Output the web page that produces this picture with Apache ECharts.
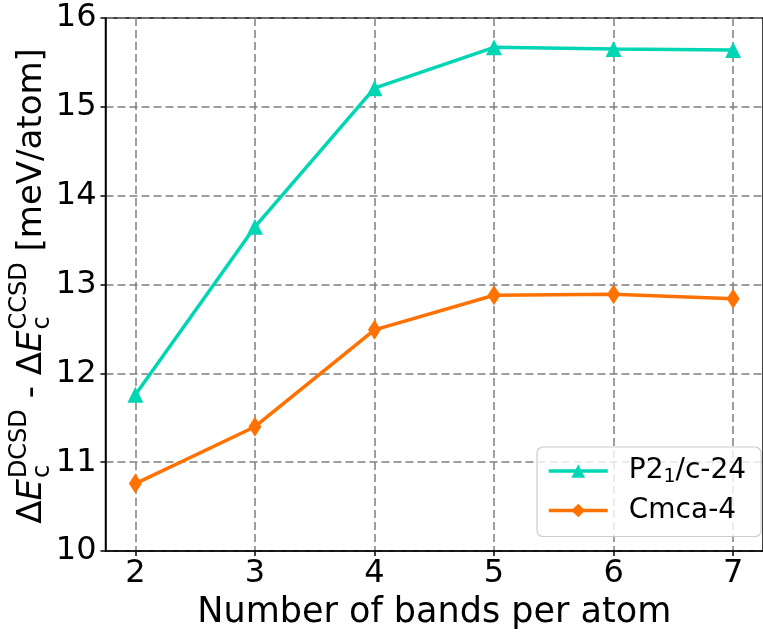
<!DOCTYPE html>
<html>
<head>
<meta charset="utf-8">
<script src="https://cdn.jsdelivr.net/npm/echarts@6/dist/echarts.min.js"></script>
<style>
  html, body { margin: 0; padding: 0; background: #fff; }
  #chart { width: 763px; height: 635px; }
</style>
</head>
<body>
<div id="chart"></div>
<script>
// Number of bands per atom (x values)
const bands = [2, 3, 4, 5, 6, 7];
// Energy difference ΔE_c^DCSD - ΔE_c^CCSD in meV/atom
const p21c24 = [11.76, 13.65, 15.21, 15.67, 15.65, 15.64];
const cmca4 = [10.76, 11.40, 12.49, 12.88, 12.89, 12.84];
// Tick values
const xTicks = [2, 3, 4, 5, 6, 7];
const yTicks = [10, 11, 12, 13, 14, 15, 16];

const seriesNames = ['P21/c-24', 'Cmca-4'];
const colors = ['#00d6b4', '#ff7100'];

const FONT = '"DejaVu Sans", sans-serif';
const TICK_SIZE = 32;
const LABEL_SIZE = 35;
const chart = echarts.init(document.getElementById('chart'), null, { renderer: 'canvas' });

// Rotated y-axis title with stacked sub/superscripts
function buildYTitle() {
  const main = 34, small = 24;
  const ctx = document.createElement('canvas').getContext('2d');
  const measure = (t, size, italic) => {
    ctx.font = (italic ? 'italic ' : '') + size + 'px ' + FONT;
    return ctx.measureText(t).width;
  };
  const k = 0.346; // middle-to-baseline offset (em)
  const supRaise = 16, subDrop = 7;
  const parts = [
    { t: 'Δ' }, { t: 'E', it: true }, { sub: 'c', sup: 'DCSD' },
    { t: ' - ' },
    { t: 'Δ' }, { t: 'E', it: true }, { sub: 'c', sup: 'CCSD' },
    { t: ' [meV/atom]' }
  ];
  const pieces = [];
  let x = 0;
  parts.forEach(p => {
    if (p.t) {
      pieces.push({ text: p.t, x: x, base: 0, size: main, it: !!p.it });
      x += measure(p.t, main, p.it);
    } else {
      const x0 = x + 1;
      pieces.push({ text: p.sup, x: x0, base: -supRaise, size: small });
      pieces.push({ text: p.sub, x: x0, base: subDrop, size: small });
      x = x0 + Math.max(measure(p.sup, small), measure(p.sub, small));
    }
  });
  const L = x;
  return {
    type: 'group',
    x: 44,
    y: 286,
    rotation: Math.PI / 2,
    children: pieces.map(pc => ({
      type: 'text',
      x: pc.x - L / 2,
      y: pc.base - k * pc.size,
      style: {
        text: pc.text,
        font: (pc.it ? 'italic ' : '') + pc.size + 'px ' + FONT,
        fill: '#000',
        align: 'left',
        verticalAlign: 'middle'
      }
    }))
  };
}

const option = {
  animation: false,
  backgroundColor: '#fff',
  textStyle: { fontFamily: FONT },
  grid: {
    left: 105.5,
    right: -8.3,
    top: 18,
    bottom: 82,
    show: true,
    borderColor: '#000',
    borderWidth: 1.5,
    backgroundColor: 'transparent'
  },
  xAxis: {
    type: 'value',
    min: 1.75,
    max: 7.25,
    name: 'Number of bands per atom',
    nameLocation: 'middle',
    nameGap: 40,
    nameTextStyle: { fontSize: LABEL_SIZE, color: '#000', fontFamily: FONT },
    axisLine: { show: true, lineStyle: { color: '#000', width: 1.5 } },
    axisTick: { show: true, inside: false, length: 5, customValues: xTicks, lineStyle: { color: '#000', width: 1.5 } },
    axisLabel: { customValues: xTicks, fontSize: TICK_SIZE, color: '#000', margin: 7, fontFamily: FONT },
    splitLine: { show: true, lineStyle: { color: '#7f7f7f', type: [8, 4], width: 1.5 } }
  },
  yAxis: {
    type: 'value',
    min: 10,
    max: 16,
    interval: 1,
    axisLine: { show: true, lineStyle: { color: '#000', width: 1.5 } },
    axisTick: { show: true, inside: false, length: 5, lineStyle: { color: '#000', width: 1.5 } },
    axisLabel: { fontSize: TICK_SIZE, color: '#000', margin: 9, fontFamily: FONT,
      formatter: v => (yTicks.indexOf(v) >= 0 ? String(v) : '') },
    splitLine: { show: true, lineStyle: { color: '#7f7f7f', type: [8, 4], width: 1.5 } }
  },
  legend: {
    orient: 'vertical',
    left: 537,
    top: 447,
    padding: [10, 15, 12, 10],
    itemGap: 10,
    itemWidth: 59,
    itemHeight: 17,
    backgroundColor: 'rgba(255,255,255,0.8)',
    borderColor: '#cccccc',
    borderWidth: 1.2,
    borderRadius: 6,
    lineStyle: { width: 3.5 },
    data: seriesNames,
    formatter: name => name === 'P21/c-24' ? '{a|P2}{s|1}{a|/c-24}' : '{a|' + name + '}',
    textStyle: {
      color: '#000',
      fontSize: 28,
      fontFamily: FONT,
      padding: [0, 0, 0, 16],
      rich: {
        a: { fontSize: 28, fontFamily: FONT, color: '#000', lineHeight: 30 },
        s: { fontSize: 19, fontFamily: FONT, color: '#000', padding: [12, 0, 0, 0] }
      }
    }
  },
  graphic: [buildYTitle()],
  series: [
    {
      name: seriesNames[0],
      type: 'line',
      data: bands.map((b, i) => [b, p21c24[i]]),
      symbol: 'triangle',
      symbolSize: 16,
      color: colors[0],
      lineStyle: { width: 3.5, color: colors[0] },
      itemStyle: { color: colors[0] },
      z: 3
    },
    {
      name: seriesNames[1],
      type: 'line',
      data: bands.map((b, i) => [b, cmca4[i]]),
      symbol: 'diamond',
      symbolSize: [13, 20],
      color: colors[1],
      lineStyle: { width: 3.5, color: colors[1] },
      itemStyle: { color: colors[1] },
      z: 3
    }
  ]
};
chart.setOption(option);
</script>
</body>
</html>
